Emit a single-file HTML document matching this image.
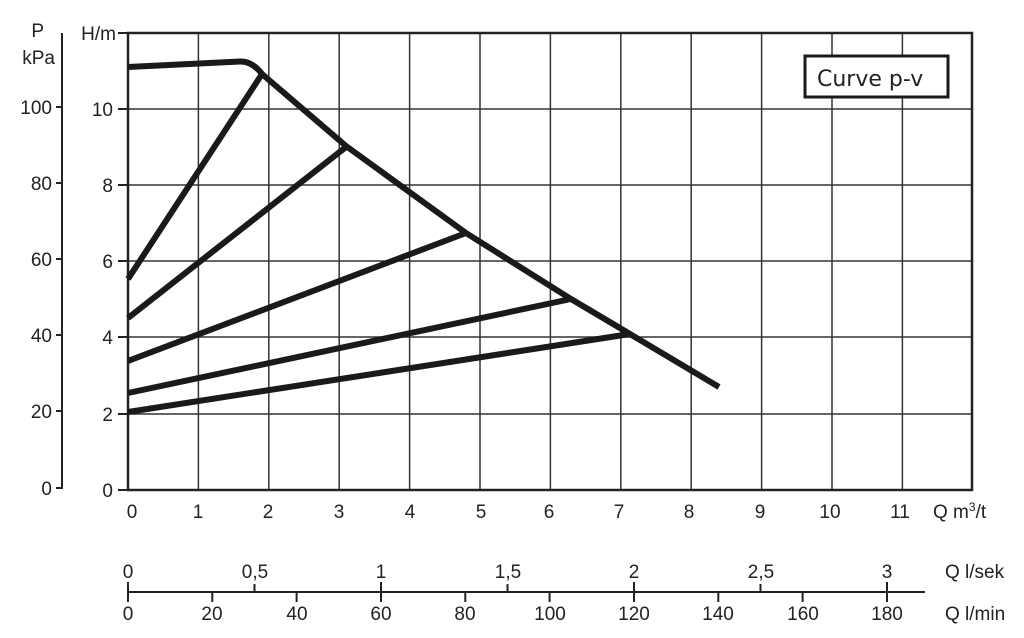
<!DOCTYPE html>
<html><head><meta charset="utf-8"><style>body{margin:0;background:#fff}svg{display:block}</style></head><body>
<svg width="1024" height="638" xmlns="http://www.w3.org/2000/svg" font-family="Liberation Sans, sans-serif" font-size="19" fill="#222">
<g stroke="#333" stroke-width="1.5">
<line x1="198.4" y1="33" x2="198.4" y2="490"/><line x1="268.8" y1="33" x2="268.8" y2="490"/><line x1="339.2" y1="33" x2="339.2" y2="490"/><line x1="409.6" y1="33" x2="409.6" y2="490"/><line x1="480" y1="33" x2="480" y2="490"/><line x1="550.4" y1="33" x2="550.4" y2="490"/><line x1="620.8" y1="33" x2="620.8" y2="490"/><line x1="691.2" y1="33" x2="691.2" y2="490"/><line x1="761.6" y1="33" x2="761.6" y2="490"/><line x1="832" y1="33" x2="832" y2="490"/><line x1="902.4" y1="33" x2="902.4" y2="490"/>
<line x1="128" y1="109" x2="972" y2="109"/><line x1="128" y1="185" x2="972" y2="185"/><line x1="128" y1="261" x2="972" y2="261"/><line x1="128" y1="337" x2="972" y2="337"/><line x1="128" y1="414" x2="972" y2="414"/>
</g>
<rect x="128" y="33" width="844" height="457" fill="none" stroke="#222" stroke-width="2.5"/>
<g stroke="#222" stroke-width="2">
<line x1="118" y1="33" x2="128" y2="33"/><line x1="118" y1="109" x2="128" y2="109"/><line x1="118" y1="185" x2="128" y2="185"/><line x1="118" y1="261" x2="128" y2="261"/><line x1="118" y1="337" x2="128" y2="337"/><line x1="118" y1="414" x2="128" y2="414"/><line x1="118" y1="490" x2="128" y2="490"/>
<line x1="62" y1="33" x2="62" y2="489"/>
<line x1="56" y1="107" x2="62" y2="107"/><line x1="56" y1="183" x2="62" y2="183"/><line x1="56" y1="259" x2="62" y2="259"/><line x1="56" y1="335" x2="62" y2="335"/><line x1="56" y1="411" x2="62" y2="411"/><line x1="56" y1="488" x2="62" y2="488"/>
<line x1="128" y1="592" x2="925" y2="592"/>
<line x1="128" y1="582" x2="128" y2="602"/><line x1="212.3" y1="592" x2="212.3" y2="602"/><line x1="296.6" y1="592" x2="296.6" y2="602"/><line x1="381" y1="582" x2="381" y2="602"/><line x1="465.3" y1="592" x2="465.3" y2="602"/><line x1="549.6" y1="592" x2="549.6" y2="602"/><line x1="634" y1="582" x2="634" y2="602"/><line x1="718.3" y1="592" x2="718.3" y2="602"/><line x1="802.6" y1="592" x2="802.6" y2="602"/><line x1="887" y1="582" x2="887" y2="602"/>
<line x1="254.5" y1="584" x2="254.5" y2="592"/><line x1="507.5" y1="584" x2="507.5" y2="592"/><line x1="760.5" y1="584" x2="760.5" y2="592"/>
</g>
<g fill="none" stroke="#1a1a1a" stroke-width="6" stroke-linecap="butt" stroke-linejoin="round">
<path d="M128,67 L240,61.5 Q252,61 262,74 L346,146 L466,233 L571,299 L630,334 L719,387"/>
<line x1="128" y1="279" x2="262" y2="74"/>
<line x1="128" y1="318" x2="346" y2="147"/>
<line x1="128" y1="361" x2="466" y2="233"/>
<line x1="128" y1="393" x2="571" y2="299"/>
<line x1="128" y1="412" x2="630" y2="334"/>
</g>
<rect x="805" y="56" width="143" height="41" fill="#fff" stroke="#1a1a1a" stroke-width="3"/>
<text x="817" y="86" font-family="DejaVu Sans, sans-serif" font-size="22">Curve  p-v</text>
<g text-anchor="end">
<text x="116" y="40">H/m</text><text x="113" y="116">10</text><text x="113" y="192">8</text><text x="113" y="268">6</text><text x="113" y="344">4</text><text x="113" y="421">2</text><text x="113" y="497">0</text>
<text x="52" y="114">100</text><text x="52" y="190">80</text><text x="52" y="266">60</text><text x="52" y="342">40</text><text x="52" y="418">20</text><text x="52" y="495">0</text>
<text x="44" y="37">P</text><text x="55" y="64">kPa</text>
</g>
<g text-anchor="middle">
<text x="132" y="518">0</text><text x="198" y="518">1</text><text x="268" y="518">2</text><text x="339" y="518">3</text><text x="410" y="518">4</text><text x="481" y="518">5</text><text x="549" y="518">6</text><text x="619" y="518">7</text><text x="689" y="518">8</text><text x="760" y="518">9</text><text x="830" y="518">10</text><text x="900" y="518">11</text>
<text x="128" y="578">0</text><text x="255" y="578">0,5</text><text x="381" y="578">1</text><text x="508" y="578">1,5</text><text x="634" y="578">2</text><text x="761" y="578">2,5</text><text x="887" y="578">3</text>
<text x="128" y="620">0</text><text x="212" y="620">20</text><text x="297" y="620">40</text><text x="381" y="620">60</text><text x="465" y="620">80</text><text x="550" y="620">100</text><text x="634" y="620">120</text><text x="718" y="620">140</text><text x="803" y="620">160</text><text x="887" y="620">180</text>
</g>
<text x="933" y="518">Q m<tspan font-size="12" dy="-7">3</tspan><tspan dy="7">/t</tspan></text>
<text x="945" y="578">Q l/sek</text>
<text x="945" y="620">Q l/min</text>
</svg>
</body></html>
